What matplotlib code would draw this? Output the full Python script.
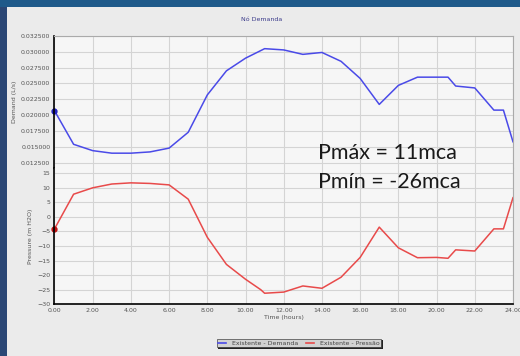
"""Nó Demanda: demand and pressure over 24 h (two stacked axes)."""

import matplotlib.pyplot as plt
from matplotlib.lines import Line2D
from matplotlib.patches import Rectangle

# Data
hours = [0, 1, 2, 3, 4, 5, 6, 7, 8, 9, 10, 11, 12, 13, 14, 15, 16, 17,
         18, 19, 20, 20.6, 21, 22, 23, 23.5, 24]
demand = [0.0207, 0.0154, 0.0144, 0.0140, 0.0140, 0.0142, 0.0148, 0.0173,
          0.0232, 0.0270, 0.0290, 0.0305, 0.0303, 0.0296, 0.0299, 0.0285,
          0.0258, 0.0217, 0.0247, 0.0260, 0.0260, 0.0260, 0.0246, 0.0243,
          0.0208, 0.0208, 0.0158]
press_hours = [0, 1, 2, 3, 4, 5, 6, 7, 8, 9, 10, 10.8, 11, 12, 13, 14, 15,
               16, 17, 18, 19, 20, 20.6, 21, 22, 23, 23.5, 24]
pressure = [-4.1, 7.8, 10.0, 11.3, 11.7, 11.5, 11.0, 6.1, -7.0, -16.3,
            -21.4, -25.0, -26.2, -25.8, -23.7, -24.5, -20.7, -13.9, -3.5,
            -10.6, -14.0, -13.9, -14.2, -11.3, -11.7, -4.1, -4.1, 6.6]

x_ticks = [0, 2, 4, 6, 8, 10, 12, 14, 16, 18, 20, 22, 24]
demand_ticks = [0.0125, 0.015, 0.0175, 0.02, 0.0225, 0.025, 0.0275, 0.03, 0.0325]
pressure_ticks = [-30, -25, -20, -15, -10, -5, 0, 5, 10, 15]

blue = '#4a4ae8'
red = '#e84a4a'
tick_color = '#555555'

fig = plt.figure(figsize=(5.2, 3.56), dpi=100)
fig.patch.set_facecolor('#ebebeb')

# dark frame strips on the left and top
fig.patches.append(Rectangle((0, 0), 0.013, 1, transform=fig.transFigure,
                             facecolor='#2b4775', edgecolor='none', zorder=0))
fig.patches.append(Rectangle((0, 0.98), 1, 0.02, transform=fig.transFigure,
                             facecolor='#1f5a8a', edgecolor='none', zorder=0))

left, width = 0.1048, 0.8817
ax1 = fig.add_axes([left, 0.5281, width, 0.8989 - 0.5281])
ax2 = fig.add_axes([left, 0.1452, width, 0.5281 - 0.1452], sharex=ax1)

for ax in (ax1, ax2):
    ax.set_facecolor('#f6f6f6')
    ax.grid(True, color='#d4d4d4', linewidth=0.8)
    ax.set_axisbelow(True)
    ax.tick_params(labelsize=4.5, colors=tick_color, length=0, pad=3)
    ax.set_xticks(x_ticks)
    ax.set_xlim(0, 24)
    for side in ('top', 'right'):
        ax.spines[side].set_color('#aaaaaa')
        ax.spines[side].set_linewidth(0.8)
    ax.spines['left'].set_color('black')
    ax.spines['left'].set_linewidth(1.2)

ax1.spines['bottom'].set_visible(False)
ax2.spines['top'].set_visible(False)
ax2.spines['bottom'].set_color('black')
ax2.spines['bottom'].set_linewidth(1.2)

ax1.plot(hours, demand, color=blue, linewidth=1.1)
ax1.plot(hours[0], demand[0], 'o', color='#2020c0', markersize=3.5, clip_on=False)
ax1.set_ylim(0.01166, 0.0325)
ax1.set_yticks(demand_ticks)
ax1.set_yticklabels([f'{v:.6f}' for v in demand_ticks])
ax1.tick_params(axis='x', labelbottom=False)
ax1.set_ylabel('Demand (L/s)', fontsize=4.5, color=tick_color, labelpad=3)

ax2.plot(press_hours, pressure, color=red, linewidth=1.1)
ax2.plot(press_hours[0], pressure[0], 'o', color='#c01010', markersize=3.5, clip_on=False)
ax2.set_ylim(-30, 16.8)
ax2.set_yticks(pressure_ticks)
ax2.set_xticklabels([f'{v:.2f}' for v in x_ticks])
ax2.set_ylabel('Pressure (m H2O)', fontsize=4.5, color=tick_color, labelpad=3)
ax2.set_xlabel('Time (hours)', fontsize=4.5, color=tick_color, labelpad=1)

fig.text(0.504, 0.946, 'Nó Demanda', fontsize=4.5, color='#3a3a8a', ha='center', va='center')

fig.text(0.611, 0.571, 'Pmáx = 11mca', fontsize=15.5, color='#1a1a1a',
         family='Lato', ha='left', va='center')
fig.text(0.611, 0.489, 'Pmín = -26mca', fontsize=15.5, color='#1a1a1a',
         family='Lato', ha='left', va='center')

handles = [Line2D([], [], color=blue, linewidth=1.2),
           Line2D([], [], color=red, linewidth=1.2)]
leg = fig.legend(handles, ['Existente - Demanda', 'Existente - Pressão'],
                 loc='center', bbox_to_anchor=(0.575, 0.0365), ncol=2,
                 fontsize=4.5, frameon=True, fancybox=False, shadow=False,
                 handlelength=1.3, columnspacing=1.3, borderpad=0.25,
                 handletextpad=0.9)
leg.get_frame().set_edgecolor('#333333')
leg.get_frame().set_linewidth(0.6)
leg.get_frame().set_facecolor('white')
for t in leg.get_texts():
    t.set_color('#444444')

# small drop shadow behind the legend box
fig.canvas.draw()
bb = leg.get_window_extent().transformed(fig.transFigure.inverted())
fig.patches.append(Rectangle((bb.x0 + 0.003, bb.y0 - 0.004), bb.width, bb.height,
                             transform=fig.transFigure, facecolor='#222222',
                             edgecolor='none', zorder=4))
leg.set_zorder(5)

fig.savefig('out.png', dpi=100, facecolor=fig.get_facecolor())
